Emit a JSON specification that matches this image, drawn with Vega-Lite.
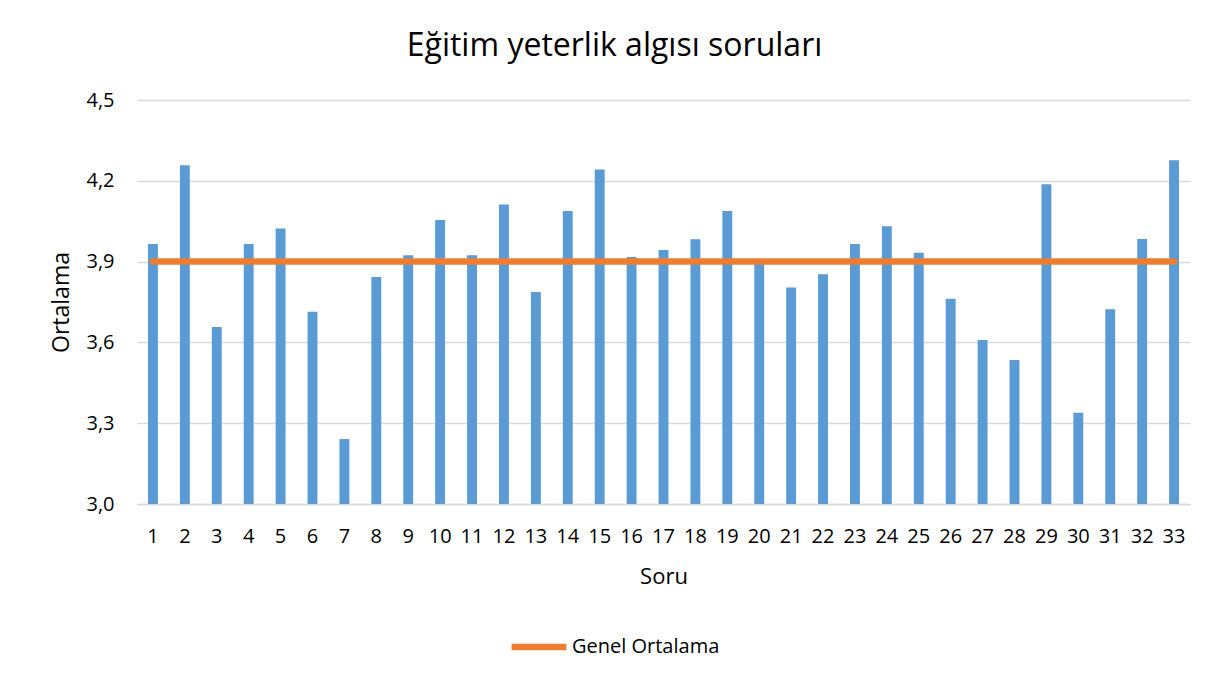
{
  "$schema": "https://vega.github.io/schema/vega-lite/v6.json",
  "width": 1053,
  "height": 404,
  "autosize": {"type": "none"},
  "padding": {"left": 137, "top": 100, "right": 29, "bottom": 180},
  "background": "white",
  "title": {
    "text": "Eğitim yeterlik algısı soruları",
    "font": "Open Sans",
    "fontSize": 32,
    "fontWeight": "normal",
    "color": "#000000",
    "anchor": "middle",
    "frame": "group",
    "dx": -49,
    "baseline": "alphabetic",
    "offset": 2
  },
  "config": {
    "view": {"stroke": null},
    "font": "Open Sans",
    "axis": {
      "labelFont": "Open Sans",
      "labelFontSize": 20,
      "labelColor": "#000000",
      "titleFont": "Open Sans",
      "titleFontSize": 22,
      "titleFontWeight": "normal",
      "titleColor": "#000000",
      "ticks": false,
      "tickSize": 0,
      "gridColor": "#D9D9D9",
      "gridWidth": 1.3,
      "domainColor": "#D9D9D9",
      "domainWidth": 1.5
    },
    "legend": {
      "labelFont": "Open Sans",
      "labelFontSize": 20,
      "labelColor": "#000000"
    }
  },
  "data": {
    "values": [
      {"Soru": 1, "Ortalama": 3.965, "genel": 3.9},
      {"Soru": 2, "Ortalama": 4.258, "genel": 3.9},
      {"Soru": 3, "Ortalama": 3.657, "genel": 3.9},
      {"Soru": 4, "Ortalama": 3.965, "genel": 3.9},
      {"Soru": 5, "Ortalama": 4.023, "genel": 3.9},
      {"Soru": 6, "Ortalama": 3.714, "genel": 3.9},
      {"Soru": 7, "Ortalama": 3.241, "genel": 3.9},
      {"Soru": 8, "Ortalama": 3.843, "genel": 3.9},
      {"Soru": 9, "Ortalama": 3.924, "genel": 3.9},
      {"Soru": 10, "Ortalama": 4.054, "genel": 3.9},
      {"Soru": 11, "Ortalama": 3.924, "genel": 3.9},
      {"Soru": 12, "Ortalama": 4.112, "genel": 3.9},
      {"Soru": 13, "Ortalama": 3.787, "genel": 3.9},
      {"Soru": 14, "Ortalama": 4.088, "genel": 3.9},
      {"Soru": 15, "Ortalama": 4.242, "genel": 3.9},
      {"Soru": 16, "Ortalama": 3.917, "genel": 3.9},
      {"Soru": 17, "Ortalama": 3.943, "genel": 3.9},
      {"Soru": 18, "Ortalama": 3.983, "genel": 3.9},
      {"Soru": 19, "Ortalama": 4.088, "genel": 3.9},
      {"Soru": 20, "Ortalama": 3.891, "genel": 3.9},
      {"Soru": 21, "Ortalama": 3.804, "genel": 3.9},
      {"Soru": 22, "Ortalama": 3.853, "genel": 3.9},
      {"Soru": 23, "Ortalama": 3.965, "genel": 3.9},
      {"Soru": 24, "Ortalama": 4.031, "genel": 3.9},
      {"Soru": 25, "Ortalama": 3.933, "genel": 3.9},
      {"Soru": 26, "Ortalama": 3.762, "genel": 3.9},
      {"Soru": 27, "Ortalama": 3.609, "genel": 3.9},
      {"Soru": 28, "Ortalama": 3.535, "genel": 3.9},
      {"Soru": 29, "Ortalama": 4.187, "genel": 3.9},
      {"Soru": 30, "Ortalama": 3.339, "genel": 3.9},
      {"Soru": 31, "Ortalama": 3.723, "genel": 3.9},
      {"Soru": 32, "Ortalama": 3.984, "genel": 3.9},
      {"Soru": 33, "Ortalama": 4.276, "genel": 3.9}
    ]
  },
  "encoding": {
    "x": {
      "field": "Soru",
      "type": "ordinal",
      "scale": {"paddingInner": 0.69, "paddingOuter": 0.345},
      "axis": {
        "title": "Soru",
        "labelAngle": 0,
        "labelBaseline": "alphabetic",
        "labelPadding": 38,
        "titleBaseline": "alphabetic",
        "titleY": 79,
        "grid": false
      }
    }
  },
  "layer": [
    {
      "mark": {"type": "bar", "color": "#5B9BD5"},
      "encoding": {
        "y": {
          "field": "Ortalama",
          "type": "quantitative",
          "scale": {"domain": [3.0, 4.5], "zero": false, "nice": false},
          "axis": {
            "title": "Ortalama",
            "values": [3.0, 3.3, 3.6, 3.9, 4.2, 4.5],
            "labelExpr": "replace(format(datum.value, '.1f'), '.', ',')",
            "labelPadding": 23,
            "domain": false,
            "titleX": -69,
            "titleY": 202,
            "titleFontSize": 23,
            "titleBaseline": "alphabetic"
          }
        },
        "y2": {"datum": 3.0}
      }
    },
    {
      "mark": {"type": "line", "strokeWidth": 6.5, "strokeCap": "round"},
      "encoding": {
        "y": {"field": "genel", "type": "quantitative", "title": "Ortalama"},
        "color": {
          "datum": "Genel Ortalama",
          "scale": {"range": ["#ED7D31"]},
          "legend": {
            "title": null,
            "orient": "none",
            "legendX": 371,
            "legendY": 516,
            "symbolType": "stroke",
            "symbolSize": 3000,
            "symbolStrokeWidth": 6.5,
            "labelOffset": 2,
            "padding": 0
          }
        }
      }
    }
  ]
}
